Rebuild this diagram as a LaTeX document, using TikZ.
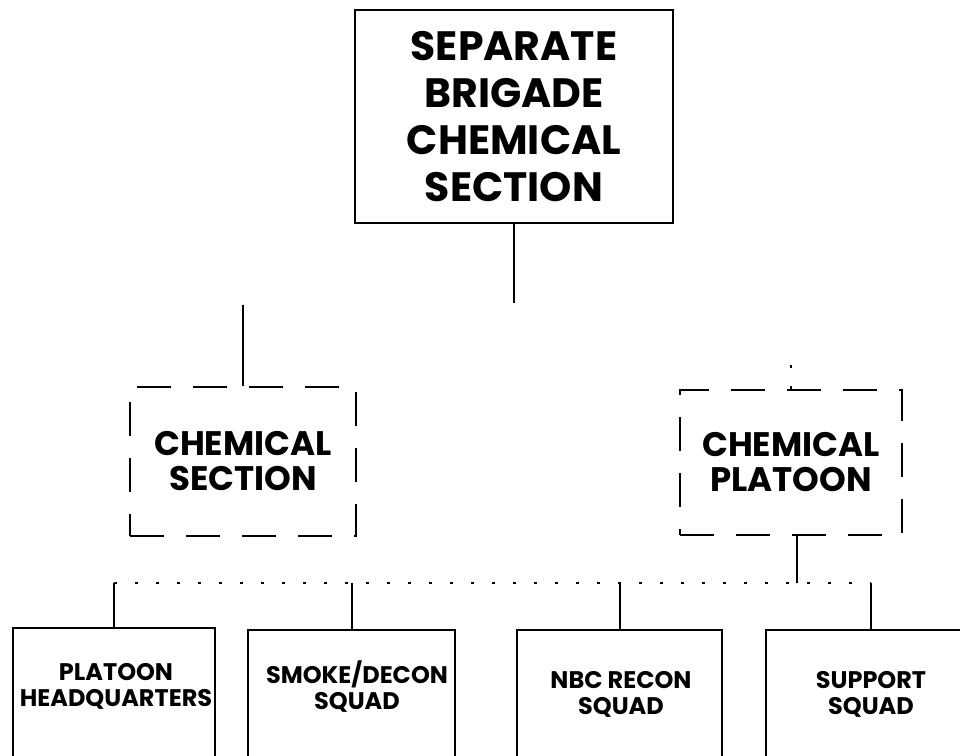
\documentclass[tikz,border=0pt]{standalone}
\usepackage{fontspec}
\setmainfont{Poppins}
\usetikzlibrary{positioning}

\tikzset{
  unitbox/.style={draw, line width=2pt, align=center, font=\bfseries},
  altbox/.style={unitbox, dash pattern=on 34pt off 22pt},
  squadbox/.style={draw, line width=2pt, anchor=north, minimum height=150pt},
  squadtxt/.style={align=center, font=\fontsize{24}{26}\selectfont\bfseries},
  link/.style={line width=2pt},
  faint/.style={line width=2pt, dash pattern=on 3pt off 18pt}
}

\begin{document}
\begin{tikzpicture}[x=1pt,y=-1pt]
\useasboundingbox (0,0) rectangle (960,755);
\clip (0,0) rectangle (960,755);

% brigade level
\node[unitbox, minimum width=318pt, minimum height=213pt,
  font=\fontsize{41}{47}\selectfont\bfseries] (brig) at (514,116.5)
  {SEPARATE\\BRIGADE\\CHEMICAL\\SECTION};

% the two alternatives
\node[altbox, minimum width=226pt, minimum height=149pt,
  font=\fontsize{34}{35}\selectfont\bfseries] (sec) at (243,461.5)
  {CHEMICAL\\SECTION};
\node[altbox, minimum width=222pt, minimum height=145pt,
  font=\fontsize{34}{35}\selectfont\bfseries] (plt) at (791,462.5)
  {CHEMICAL\\PLATOON};

% squads
\node[squadbox, minimum width=202pt] (hq) at (114,627) {};
\node[squadbox, minimum width=207pt] (smk) at (351.5,629) {};
\node[squadbox, minimum width=205pt] (nbc) at (619.5,629) {};
\node[squadbox, minimum width=210pt] (sup) at (871,629) {};

\node[squadtxt] (hqtxt) at (116,686) {PLATOON\\HEADQUARTERS};
\node[squadtxt] (smktxt) at (357,687) {SMOKE/DECON\\SQUAD};
\node[squadtxt] (nbctxt) at (621,694) {NBC RECON\\SQUAD};
\node[squadtxt] (suptxt) at (871,694) {SUPPORT\\SQUAD};

% connectors
\coordinate (brigend) at (514,303);
\coordinate (secend) at (243,305);
\coordinate (pltend) at (791,355);
\coordinate (busl) at (114,583);
\coordinate (busr) at (871,583);
\coordinate (pltbus) at (797,583);

\draw[link] (brig) -- (brigend);
\draw[link] (secend) -- (sec);
\draw[faint] (plt) -- (pltend);
\draw[faint] (busl) -- (busr);
\draw[link] (plt.south -| pltbus) -- (pltbus);
\draw[link] (busl) -- (hq.north);
\draw[link] (smk.north |- busl) -- (smk.north);
\draw[link] (nbc.north |- busl) -- (nbc.north);
\draw[link] (busr) -- (sup.north);
\end{tikzpicture}
\end{document}
